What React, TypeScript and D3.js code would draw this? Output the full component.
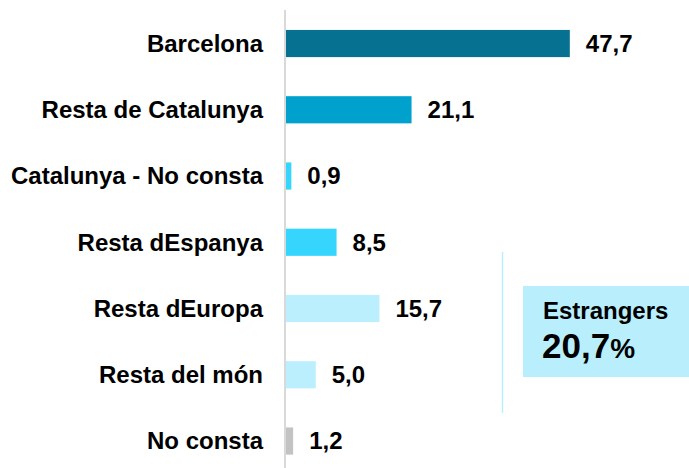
import React from "react";
import * as d3 from "d3";

const categories = [
  "Barcelona",
  "Resta de Catalunya",
  "Catalunya - No consta",
  "Resta dEspanya",
  "Resta dEuropa",
  "Resta del món",
  "No consta",
];
const values = [47.7, 21.1, 0.9, 8.5, 15.7, 5.0, 1.2];
const colors = ["#067190", "#00a1cc", "#36d5fd", "#36d5fd", "#bbeffd", "#bbeffd", "#c3c3c3"];
const calloutTitle = "Estrangers";
const calloutValue = "20,7";
const calloutUnit = "%";

const W = 689;
const H = 468;
const FONT = "'Liberation Sans', Arial, Helvetica, sans-serif";

export default function App() {
  const x = d3.scaleLinear().domain([0, 50]).range([286, 286 + 50 * 5.95]);
  const y = d3
    .scaleBand<string>()
    .domain(categories)
    .range([10.4, 10.4 + 7 * 66.25])
    .paddingInner(0.59)
    .paddingOuter(0.295);
  const fmt = (v: number) => d3.format(".1f")(v).replace(".", ",");
  const bw = y.bandwidth();

  return (
    <svg
      width={W}
      height={H}
      style={{ position: "absolute", left: 0, top: 0, background: "#fff" }}
      fontFamily={FONT}
      fontWeight="bold"
    >
      <line x1={285} x2={285} y1={10} y2={H} stroke="#d9d9d9" strokeWidth={2} />
      {categories.map((c, i) => {
        const yc = (y(c) as number) + bw / 2;
        return (
          <g key={c}>
            <rect
              x={x(0)}
              y={y(c) as number}
              width={x(values[i]) - x(0)}
              height={bw}
              fill={colors[i]}
            />
            <text x={263} y={yc} dy="0.35em" textAnchor="end" fontSize={24} fill="#000">
              {c}
            </text>
            <text x={x(values[i]) + 16} y={yc} dy="0.35em" fontSize={24} fill="#000">
              {fmt(values[i])}
            </text>
          </g>
        );
      })}
      <line x1={502.5} x2={502.5} y1={252} y2={413} stroke="#b9effd" strokeWidth={1.5} />
      <rect x={523} y={286} width={W - 523} height={91} fill="#b9effd" />
      <text x={543} y={319} fontSize={24} fill="#000">
        {calloutTitle}
      </text>
      <text x={542} y={358} fontSize={35} fill="#000">
        {calloutValue}
        <tspan fontSize={28}>{calloutUnit}</tspan>
      </text>
    </svg>
  );
}
